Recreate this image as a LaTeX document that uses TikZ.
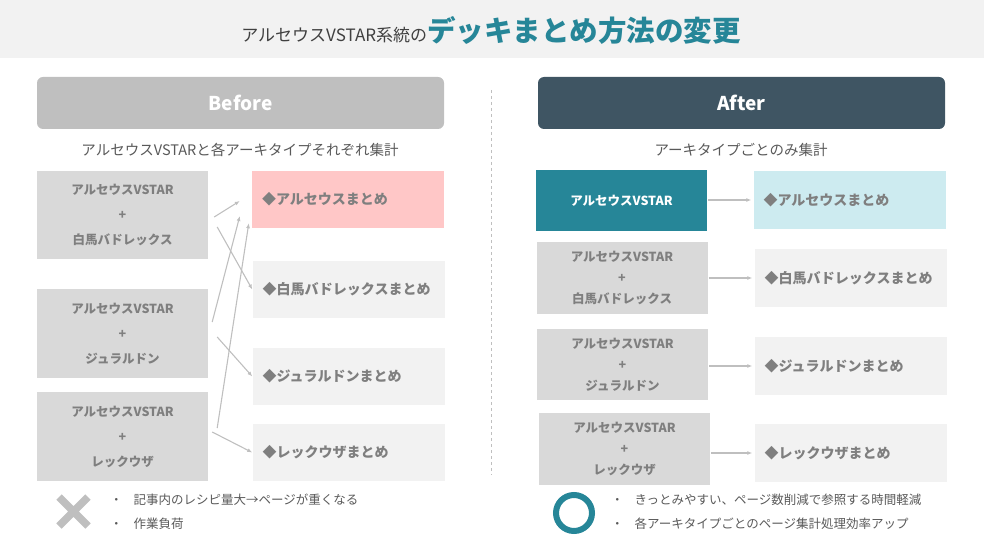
\documentclass[tikz,border=0pt]{standalone}
\usepackage{fontspec,xcolor,tikz}
\usetikzlibrary{arrows.meta,calc,positioning}
\setmainfont{Noto Sans CJK JP}
\definecolor{bandgray}{RGB}{242,242,242}
\definecolor{hdrgray}{RGB}{191,191,191}
\definecolor{boxgray}{RGB}{217,217,217}
\definecolor{sumgray}{RGB}{242,242,242}
\definecolor{txtgray}{RGB}{127,127,127}
\definecolor{subgray}{RGB}{89,89,89}
\definecolor{titledark}{RGB}{64,64,64}
\definecolor{vteal}{RGB}{38,134,152}
\definecolor{slate}{RGB}{63,85,99}
\definecolor{pinkbox}{RGB}{255,199,199}
\definecolor{cyanbox}{RGB}{205,235,240}
\tikzset{
  hdr/.style={rounded corners=6pt,minimum width=407pt,minimum height=52pt,inner sep=0pt,
    text=white,font=\fontsize{19}{22}\selectfont\bfseries},
  combo/.style={fill=boxgray,minimum width=171pt,inner sep=0pt,align=center,text=txtgray,
    font=\fontsize{12.5}{25}\selectfont\bfseries},
  tight/.style={font=\fontsize{12.5}{21}\selectfont\bfseries},
  sumbox/.style={fill=sumgray,text width=172pt,inner xsep=10pt,inner ysep=0pt,align=left,
    minimum height=57pt,text=txtgray,font=\fontsize{14}{17}\selectfont\bfseries},
  subttl/.style={text=subgray,font=\fontsize{14.5}{17}\selectfont},
  note/.style={text=subgray,anchor=west,inner sep=0pt,font=\fontsize{12.5}{15}\selectfont},
  arr/.style={-{Latex[length=5pt,width=4pt]},draw=hdrgray,line width=1.1pt}
}
\begin{document}
\begin{tikzpicture}[x=1pt,y=-1pt]
\useasboundingbox (0,0) rectangle (984,553);
\fill[bandgray] (0,0) rectangle (984,58);
\node (title) at (491,30) {{\fontsize{17}{20}\selectfont\color{titledark}アルセウスVSTAR系統の}{\fontsize{28.5}{32}\selectfont\bfseries\color{vteal}デッキまとめ方法の変更}};
% headers
\node[hdr,fill=hdrgray] (before) at (240.5,103) {Before};
\node[hdr,fill=slate] (after) at (741.5,103) {After};
\draw[hdrgray,dashed,line width=0.8pt] (491,90) -- (491,475);
\node[subttl] (subL) at (240,150) {アルセウスVSTARと各アーキタイプそれぞれ集計};
\node[subttl] (subR) at (741,150) {アーキタイプごとのみ集計};
% before: combinations
\node[combo,minimum height=88pt] (L1) at (122.5,215) {アルセウスVSTAR\\+\\白馬バドレックス};
\node[combo,minimum height=89pt] (L2) at (122.5,333.5) {アルセウスVSTAR\\+\\ジュラルドン};
\node[combo,minimum height=89pt] (L3) at (122.5,436.5) {アルセウスVSTAR\\+\\レックウザ};
% before: summaries
\node[sumbox,fill=pinkbox] (R1) at (348,199.5) {◆アルセウスまとめ};
\node[sumbox] (R2) at (348.5,289.5) {◆白馬バドレックスまとめ};
\node[sumbox] (R3) at (348.5,376.5) {◆ジュラルドンまとめ};
\node[sumbox] (R4) at (348.5,452.5) {◆レックウザまとめ};
\draw[arr] ($(L1.east)+(6,2)$) -- ($(R1.west)+(-12,1.5)$);
\draw[arr] ($(L1.east)+(9,12)$) -- (R2.west);
\draw[arr] ($(L2.east)+(4,-11.5)$) -- ($(R1.west)+(-12,16.5)$);
\draw[arr] ($(L2.east)+(9,3.5)$) -- (R3.west);
\draw[arr] ($(L3.east)+(9,-8.5)$) -- ($(R1.south west)+(-3,-5)$);
\draw[arr] ($(L3.east)+(4,-4.5)$) -- (R4.west);
% after
\node[combo,fill=vteal,text=white,minimum height=61pt] (A1) at (621.5,200.5) {アルセウスVSTAR};
\node[combo,tight,minimum height=72pt] (A2) at (622,278) {アルセウスVSTAR\\+\\白馬バドレックス};
\node[combo,tight,minimum height=71pt] (A3) at (622.5,364.5) {アルセウスVSTAR\\+\\ジュラルドン};
\node[combo,tight,minimum height=72pt] (A4) at (624.5,449) {アルセウスVSTAR\\+\\レックウザ};
\node[sumbox,fill=cyanbox,minimum height=58pt] (B1) at (849.5,200) {◆アルセウスまとめ};
\node[sumbox,minimum height=58pt] (B2) at (850.5,278) {◆白馬バドレックスまとめ};
\node[sumbox,minimum height=58pt] (B3) at (850.5,366) {◆ジュラルドンまとめ};
\node[sumbox,minimum height=58pt] (B4) at (850.5,453) {◆レックウザまとめ};
\foreach \i in {1,...,4}
  \draw[arr] ([xshift=1pt]A\i.east |- B\i) -- ([xshift=-2pt]B\i.west);
% bottom notes
\draw[hdrgray,line width=7.5pt] (59,497) -- (88,526) (88,497) -- (59,526);
\node[note] (n1) at (110,500) {・\hspace{11pt}記事内のレシピ量大→ページが重くなる};
\node[note] (n2) at (110,524) {・\hspace{11pt}作業負荷};
\draw[vteal,line width=6pt] (574,513) circle (18);
\node[note] (n3) at (611,500) {・\hspace{11pt}きっとみやすい、ページ数削減で参照する時間軽減};
\node[note] (n4) at (611,524) {・\hspace{11pt}各アーキタイプごとのページ集計処理効率アップ};
\end{tikzpicture}
\end{document}
